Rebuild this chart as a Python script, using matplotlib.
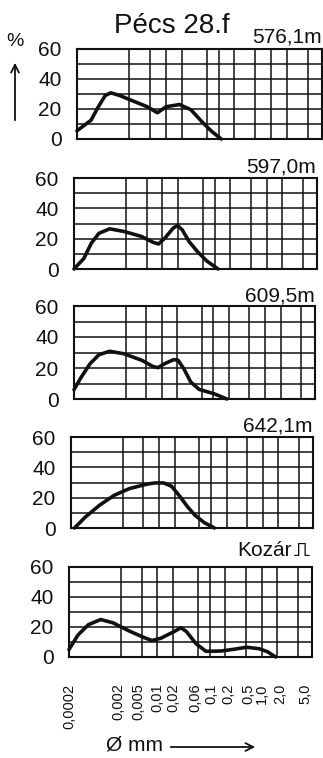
import matplotlib
matplotlib.use("Agg")
from matplotlib import pyplot as plt
from matplotlib import font_manager, transforms
from matplotlib.ft2font import FT2Font
from matplotlib.patches import FancyArrowPatch
from matplotlib.lines import Line2D

plt.rcParams['font.family'] = ['Liberation Sans', 'DejaVu Sans']

# granulométrie : diamètre (mm) -> pourcentage
x_576 = [0.0002, 0.00037, 0.00051, 0.00069, 0.00088, 0.0013, 0.0021, 0.0043,
         0.0068, 0.01, 0.0178, 0.0296, 0.048, 0.074, 0.112]
y_576 = [5.5, 12.5, 21.5, 29, 30.8, 29, 26, 21.6, 17.5, 21.5, 23, 19.5, 11.5, 5, 0]

x_597 = [0.0002, 0.00031, 0.00043, 0.0006, 0.00097, 0.00185, 0.0040, 0.0066,
         0.0084, 0.0111, 0.016, 0.0194, 0.024, 0.0326, 0.047, 0.071, 0.117]
y_597 = [0, 7, 17, 23.5, 26.5, 24.7, 21.4, 17.6, 16.5, 20.3, 26.9, 28.7, 25.8,
         18, 11.5, 5.3, 0]

x_609 = [0.0002, 0.000275, 0.00041, 0.00061, 0.00098, 0.00185, 0.0041, 0.0067,
         0.0084, 0.0114, 0.017, 0.0207, 0.0267, 0.0364, 0.053, 0.103, 0.182]
y_609 = [6, 14, 22.8, 28.6, 30.8, 29.2, 25, 21, 20.2, 22.8, 25.4, 25, 19.6, 11,
         6.2, 3.4, 0]

x_642 = [0.000234, 0.00038, 0.00071, 0.00135, 0.00268, 0.00564, 0.00815, 0.0123,
         0.0174, 0.0243, 0.0358, 0.0494, 0.0747, 0.117]
y_642 = [0, 7.3, 15, 21.5, 26, 28.8, 29.7, 29.7, 27.5, 21.5, 13.8, 8.4, 3.5, 0]

x_kozar = [0.0002, 0.000295, 0.00047, 0.00081, 0.0014, 0.0028, 0.0055, 0.0078,
           0.0116, 0.021, 0.0282, 0.0359, 0.0546, 0.0853, 0.168, 0.3, 0.514,
           0.906, 1.3, 1.86]
y_kozar = [5, 14.5, 21.5, 25, 22.8, 17.5, 13, 11, 12.5, 17, 19.5, 17, 9, 3.8, 4,
           5.2, 6.5, 5.5, 3.5, 0]

series = [(x_576, y_576), (x_597, y_597), (x_609, y_609), (x_642, y_642),
          (x_kozar, y_kozar)]
labels = ['576,1m', '597,0m', '609,5m', '642,1m', 'Kozár⎍']

grid_mm = [0.002, 0.005, 0.01, 0.02, 0.06, 0.1, 0.2, 0.5, 1.0, 2.0, 5.0]
tick_mm = [0.0002] + grid_mm
tick_labels = ['0,0002', '0,002', '0,005', '0,01', '0,02', '0,06', '0,1', '0,2',
               '0,5', '1,0', '2,0', '5,0']
y_grid = [10, 20, 30, 40, 50]
y_ticks = [0, 20, 40, 60]

W, H = 323, 758
# cadres en pixels : gauche, droite, haut, bas (le dessin original est un peu penché)
boxes = [(77, 322, 49, 139), (74, 317, 178, 269), (74, 315, 306, 399),
         (71, 313, 437, 528), (69, 312, 567, 657)]
label_pos = [(322, 37), (316, 167), (315, 296), (313, 426), (313, 550)]
# petits décalages (px) des étiquettes du bas, comme sur le dessin à la main
tick_shift = [0, -3, -3, 0, 0, -3, 2, 3, 2, 0, 3, 7]


def famille_avec(code):
    # cherche une police installée qui a le glyphe demandé
    for f in font_manager.fontManager.ttflist:
        try:
            if FT2Font(f.fname).get_char_index(code):
                return f.name
        except Exception:
            continue
    return None


fam_symbole = famille_avec(0x238D)

fig = plt.figure(figsize=(W / 100, H / 100), dpi=100)

for i, ((xs, ys), lab) in enumerate(zip(series, labels)):
    l, r, t, b = boxes[i]
    ax = fig.add_axes([l / W, 1 - b / H, (r - l) / W, (b - t) / H])
    ax.set_xscale('log')
    ax.set_xlim(0.0002, 9.3)
    ax.set_ylim(0, 60)
    for g in grid_mm:
        ax.axvline(g, color='#111', lw=1.1, zorder=1)
    for g in y_grid:
        ax.axhline(g, color='#111', lw=1.1, zorder=1)
    ax.plot(xs, ys, color='#111', lw=2.6, solid_joinstyle='round',
            solid_capstyle='round', zorder=3, clip_on=False)
    for s in ax.spines.values():
        s.set_linewidth(1.5)
        s.set_color('#111')
    ax.set_yticks(y_ticks)
    ax.tick_params(axis='y', length=0, pad=11, labelsize=15, colors='#111')
    ax.minorticks_off()
    if i == len(series) - 1:
        ax.set_xticks(tick_mm)
        ax.set_xticklabels(tick_labels, rotation=90)
        ax.tick_params(axis='x', length=0, pad=19, labelsize=10.5, colors='#111')
        for tl, dx in zip(ax.get_xticklabels(), tick_shift):
            tl.set_transform(tl.get_transform() + transforms.ScaledTranslation(
                dx / 100, 0, fig.dpi_scale_trans))
    else:
        ax.set_xticks([])
    x_lab, y_lab = label_pos[i][0] / W, 1 - label_pos[i][1] / H
    if lab.endswith('⎍') and fam_symbole is None:
        # aucune police n'a le signe : on le trace à la main
        fig.text((x_lab * W - 23) / W, y_lab, lab[:-1], ha='right', va='center',
                 fontsize=15, color='#111')
        px = [292, 296, 296, 306, 306, 312]
        py = [557, 557, 547, 547, 557, 557]
        fig.add_artist(Line2D([p / W for p in px], [1 - p / H for p in py],
                              transform=fig.transFigure, color='#111', lw=1.5))
    else:
        fam = ['Liberation Sans', fam_symbole] if fam_symbole else None
        fig.text(x_lab, y_lab, lab, ha='right', va='center', fontsize=15,
                 color='#111', family=fam)

fig.text(172 / W, 1 - 26 / H, 'Pécs 28.f', ha='center', va='center',
         fontsize=20, color='#111')

# axe des pourcentages
fig.text(15 / W, 1 - 41 / H, '%', ha='center', va='center', fontsize=14,
         color='#111')
fig.add_artist(FancyArrowPatch((15 / W, 1 - 123 / H), (15 / W, 1 - 60 / H),
                               transform=fig.transFigure, arrowstyle='->',
                               mutation_scale=14, lw=1.3, color='#111'))

# axe des diamètres
fig.text(106 / W, 1 - 745 / H, 'Ø mm', ha='left', va='center', fontsize=15,
         color='#111')
fig.add_artist(FancyArrowPatch((168 / W, 1 - 747 / H), (258 / W, 1 - 747 / H),
                               transform=fig.transFigure, arrowstyle='->',
                               mutation_scale=14, lw=1.3, color='#111'))

fig.savefig('out.png', dpi=100)
